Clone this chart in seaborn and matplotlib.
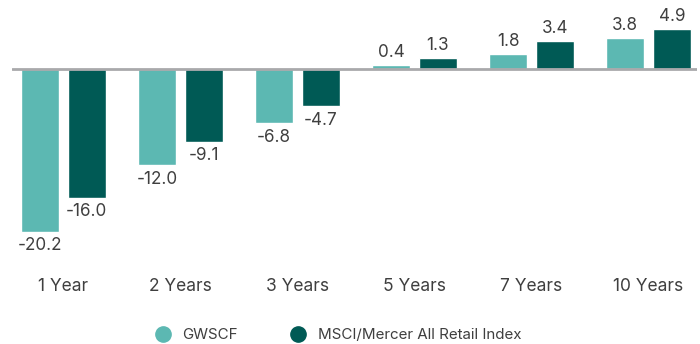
import matplotlib
matplotlib.use("Agg")
import matplotlib.pyplot as plt
from matplotlib.lines import Line2D
import seaborn as sns
import pandas as pd

periods = ["1 Year", "2 Years", "3 Years", "5 Years", "7 Years", "10 Years"]
series_names = ["GWSCF", "MSCI/Mercer All Retail Index"]
gwscf = [-20.2, -12.0, -6.8, 0.4, 1.8, 3.8]
msci = [-16.0, -9.1, -4.7, 1.3, 3.4, 4.9]

colors = ["#5cb8b2", "#005a55"]
text_color = "#3f3f3f"

df = pd.DataFrame({
    "period": periods * 2,
    "series": [series_names[0]] * len(periods) + [series_names[1]] * len(periods),
    "value": gwscf + msci,
})

sns.set_theme(style="white")
plt.rcParams["font.family"] = ["Inter", "DejaVu Sans"]

fig = plt.figure(figsize=(7.0, 3.44), dpi=100)
ax = fig.add_axes([0.0171, 0.2442, 0.9786, 0.7326])

sns.barplot(data=df, x="period", y="value", hue="series", order=periods,
            hue_order=series_names, palette=colors, width=0.8, gap=0.19,
            saturation=1, ax=ax, legend=False, errorbar=None)

ax.set_xlim(-0.44, 5.415)
ax.set_ylim(-23.73, 7.5)
ax.axhline(0, color="#a9a9ab", lw=2, zorder=3)

for container in ax.containers:
    for bar in container:
        v = bar.get_height()
        x = bar.get_x() + bar.get_width() / 2
        if v < 0:
            ax.annotate(f"{v:.1f}", (x, v), xytext=(0, -4), textcoords="offset points",
                        ha="center", va="top", fontsize=12.3, color=text_color)
        else:
            ax.annotate(f"{v:.1f}", (x, v), xytext=(0, 3), textcoords="offset points",
                        ha="center", va="bottom", fontsize=12.3, color=text_color)

ax.set_xlabel("")
ax.set_ylabel("")
ax.set_yticks([])
ax.tick_params(axis="x", length=0, pad=13, labelsize=12.5, labelcolor=text_color)
for s in ax.spines.values():
    s.set_visible(False)

handles = [Line2D([0], [0], marker="o", linestyle="", markersize=11,
                  markerfacecolor=c, markeredgecolor=c) for c in colors]
fig.legend(handles, series_names, loc="center", bbox_to_anchor=(0.478, 0.026),
           ncol=2, frameon=False, fontsize=10.9, labelcolor=text_color,
           handletextpad=0.3, columnspacing=3.0)

fig.savefig("out.png", dpi=100)
